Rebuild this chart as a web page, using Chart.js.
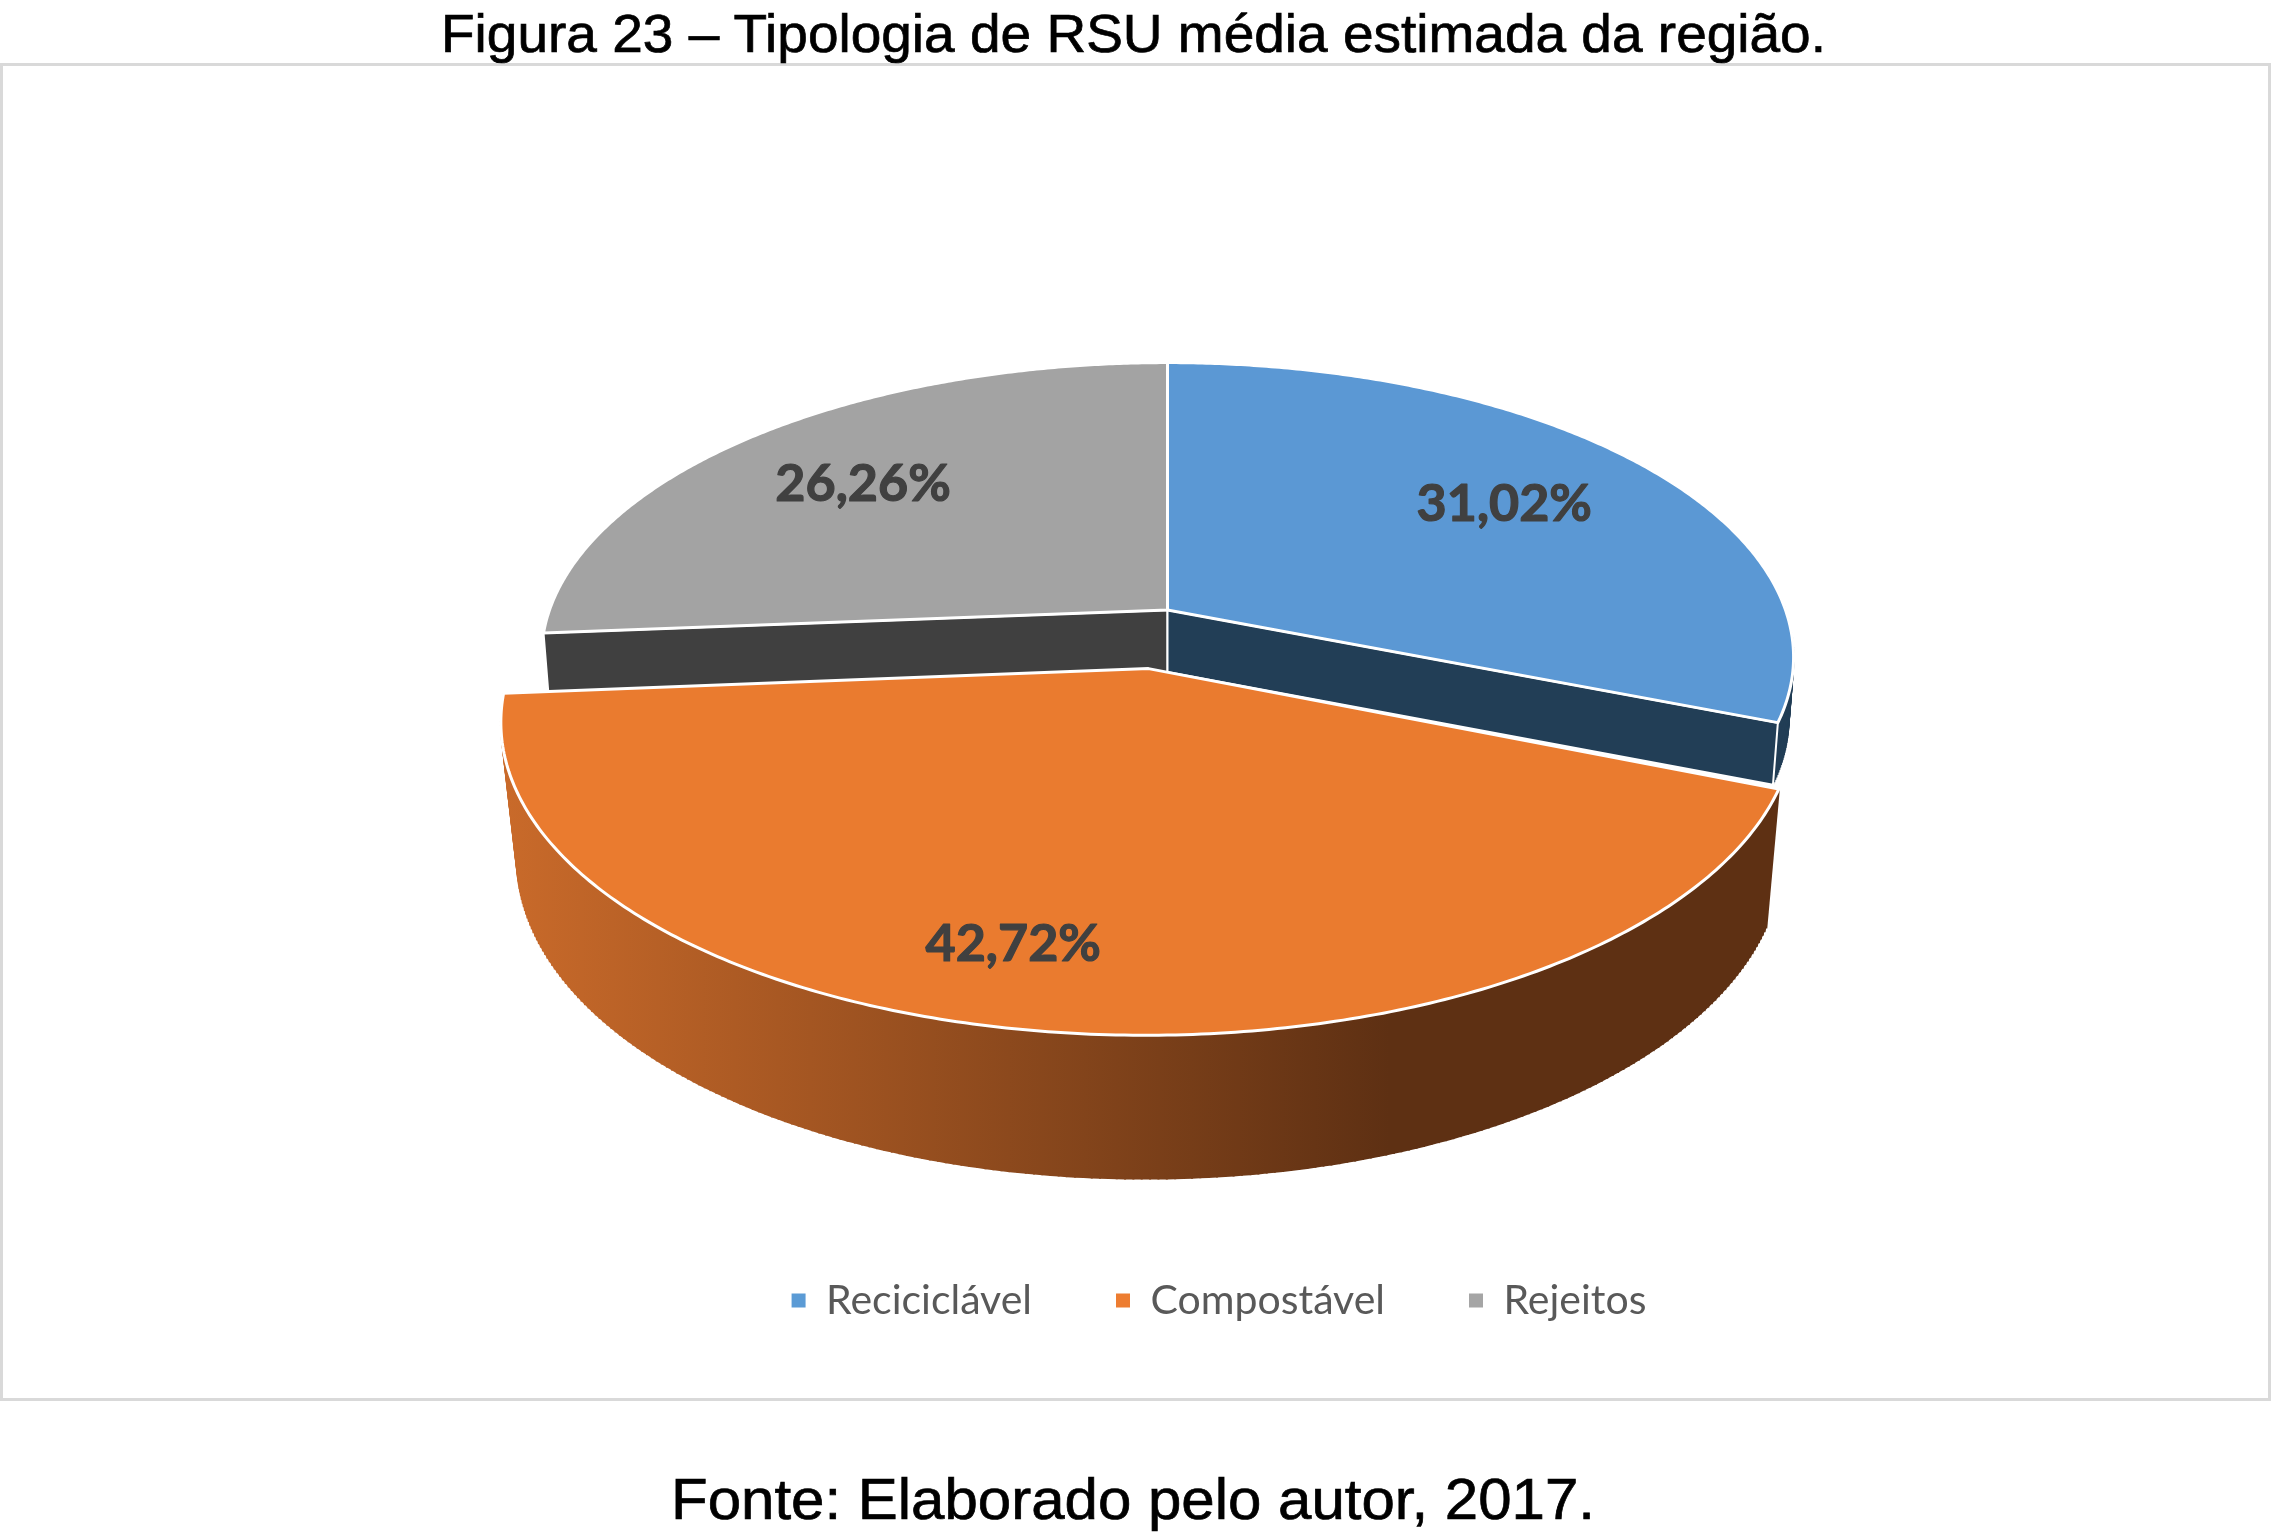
<!DOCTYPE html>
<html>
<head>
<meta charset="utf-8">
<script src="https://cdn.jsdelivr.net/npm/chart.js@4"></script>
<style>
  html, body { margin: 0; padding: 0; background: #fff; width: 2274px; height: 1535px; overflow: hidden; }
  #frame { position: absolute; left: 0; top: 63px; width: 2265px; height: 1332px; border: 3px solid #d9d9d9; }
  #chart { position: absolute; left: 0; top: 0; }
  .txt { position: absolute; white-space: nowrap; font-family: "Liberation Sans", Arial, sans-serif; color: #000; transform-origin: 0 0; -webkit-text-stroke: 0.7px #000; }
</style>
</head>
<body>
<div id="frame"></div>
<canvas id="chart" width="2274" height="1535"></canvas>
<div class="txt" id="titulo" data-x="441" data-w="1385" style="top:2px;font-size:54px">Figura 23 – Tipologia de RSU média estimada da região.</div>
<div class="txt" id="fonte" data-x="671" data-w="924" style="top:1465px;font-size:58px">Fonte: Elaborado pelo autor, 2017.</div>
<script>
// Valores
const categorias = ['Reciciclável', 'Compostável', 'Rejeitos'];
const valores = [31.02, 42.72, 26.26];
const rotulos = ['31,02%', '42,72%', '26,26%'];
const explosao = [0, 0.2, 0];

const coresLegenda = ['#5B9BD5', '#ED7D31', '#A5A5A5'];
const coresTopo = ['#5B98D4', '#EA7B2F', '#A3A3A3'];
const coresLado = ['#223E56', '#5E3013', '#404040'];

// Perspectiva do disco
const cx = 1167.5, cy = 610, raio = 618, ky = 287, persp = 0.16;
const labelRaio = [0.70, 0.805, 0.71];
const labelGiro = [0, 4.4, -1];

function projeta(X, Y) {
  const w = 1 - persp * Y;
  return { x: cx + raio * X / w, y: cy + ky * Y / w };
}

// ponto na face de cima de uma fatia
function pontoTopo(arc, i, r, ang) {
  const meio = (arc.startAngle + arc.endAngle) / 2;
  const ox = explosao[i] * Math.cos(meio), oy = explosao[i] * Math.sin(meio);
  return projeta(ox + r * Math.cos(ang), oy + r * Math.sin(ang));
}

// a base fica mais abaixo e um pouco mais estreita
function pontoBase(arc, i, r, ang) {
  const c = pontoTopo(arc, i, 0, 0);
  const p = pontoTopo(arc, i, r, ang);
  if (explosao[i] > 0) {
    const sx = p.x < c.x ? 0.975 : 0.98;
    return { x: c.x + (p.x - c.x) * sx, y: c.y + (p.y - c.y) * 1.02 + 137 };
  }
  return { x: c.x + (p.x - c.x) * 0.992, y: p.y + 62 };
}

function contorno(ctx, pts) {
  ctx.beginPath();
  pts.forEach((p, n) => n ? ctx.lineTo(p.x, p.y) : ctx.moveTo(p.x, p.y));
  ctx.closePath();
}

function amostraAngulos(arc) {
  const lista = [];
  for (let n = 0; n <= 240; n++) {
    lista.push(arc.startAngle + (arc.endAngle - arc.startAngle) * n / 240);
  }
  return lista;
}

function desenhaParede(ctx, arc, i, cor) {
  const angs = amostraAngulos(arc);
  const pts = angs.map(a => pontoTopo(arc, i, 1, a)).concat(angs.slice().reverse().map(a => pontoBase(arc, i, 1, a)));
  contorno(ctx, pts);
  ctx.fillStyle = cor;
  ctx.fill();
  // geratrizes, para a silhueta sair reta nas pontas
  ctx.strokeStyle = cor;
  ctx.lineWidth = 2;
  angs.forEach(a => {
    const t = pontoTopo(arc, i, 1, a), b = pontoBase(arc, i, 1, a);
    ctx.beginPath();
    ctx.moveTo(t.x, t.y);
    ctx.lineTo(b.x, b.y);
    ctx.stroke();
  });
}

function desenhaCorte(ctx, arc, i, ang) {
  contorno(ctx, [pontoTopo(arc, i, 0, ang), pontoTopo(arc, i, 1, ang), pontoBase(arc, i, 1, ang), pontoBase(arc, i, 0, ang)]);
  ctx.fillStyle = coresLado[i];
  ctx.strokeStyle = '#fff';
  ctx.lineWidth = 2;
  ctx.fill();
  ctx.stroke();
}

function desenhaTopo(ctx, arc, i) {
  const pts = [pontoTopo(arc, i, 0, 0)].concat(amostraAngulos(arc).map(a => pontoTopo(arc, i, 1, a)));
  contorno(ctx, pts);
  ctx.fillStyle = coresTopo[i];
  ctx.strokeStyle = '#fff';
  ctx.lineWidth = 3;
  ctx.lineJoin = 'round';
  ctx.fill();
  ctx.stroke();
}

// troca o desenho plano da pizza pela versao 3D usando os angulos do Chart.js
const pizza3d = {
  id: 'pizza3d',
  beforeDatasetsDraw(chart) {
    const ctx = chart.ctx;
    const arcos = chart.getDatasetMeta(0).data;
    ctx.save();

    // paredes de tras: rejeitos e reciclavel
    desenhaParede(ctx, arcos[0], 0, coresLado[0]);
    desenhaCorte(ctx, arcos[2], 2, arcos[2].startAngle);
    desenhaCorte(ctx, arcos[0], 0, arcos[0].endAngle);
    desenhaTopo(ctx, arcos[2], 2);
    desenhaTopo(ctx, arcos[0], 0);

    // fatia destacada na frente
    const grad = ctx.createLinearGradient(505, 0, 1390, 0);
    grad.addColorStop(0, '#C96A2A');
    grad.addColorStop(1, coresLado[1]);
    desenhaParede(ctx, arcos[1], 1, grad);
    desenhaTopo(ctx, arcos[1], 1);

    // rotulos
    ctx.fillStyle = '#404040';
    ctx.strokeStyle = '#404040';
    ctx.lineWidth = 1.2;
    ctx.font = 'bold 52px Lato';
    ctx.textAlign = 'center';
    ctx.textBaseline = 'middle';
    arcos.forEach((arc, i) => {
      const ang = (arc.startAngle + arc.endAngle) / 2 + labelGiro[i] * Math.PI / 180;
      const p = pontoTopo(arc, i, labelRaio[i], ang);
      ctx.fillText(rotulos[i], p.x, p.y);
      ctx.strokeText(rotulos[i], p.x, p.y);
    });

    ctx.restore();
    return false;
  }
};

new Chart(document.getElementById('chart').getContext('2d'), {
  type: 'pie',
  data: {
    labels: categorias,
    datasets: [{ data: valores, backgroundColor: coresLegenda, borderWidth: 0 }]
  },
  options: {
    responsive: false,
    animation: false,
    layout: { padding: { left: 164, bottom: 204 } },
    plugins: {
      tooltip: { enabled: false },
      legend: {
        position: 'bottom',
        labels: {
          boxWidth: 14,
          boxHeight: 14,
          padding: 84,
          color: '#595959',
          font: { family: 'Lato', size: 41 }
        }
      }
    }
  },
  plugins: [pizza3d]
});

// ajusta a largura dos textos da figura
document.querySelectorAll('.txt').forEach(el => {
  const escala = el.dataset.w / el.getBoundingClientRect().width;
  el.style.left = el.dataset.x + 'px';
  el.style.transform = 'scaleX(' + escala + ')';
});
</script>
</body>
</html>
